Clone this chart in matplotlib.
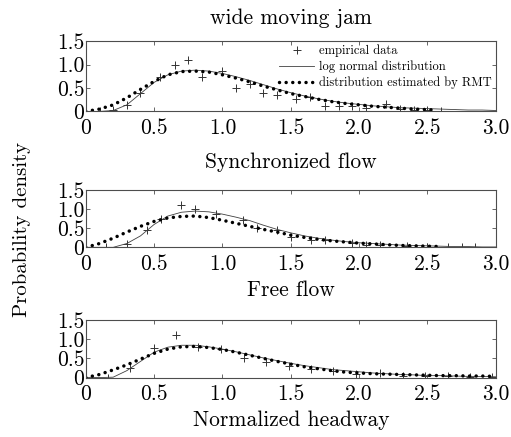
import matplotlib
matplotlib.use("Agg")
import matplotlib.pyplot as plt

plt.rcParams.update({
    "font.family": "serif",
    "font.serif": ["cmr10", "DejaVu Serif"],
    "mathtext.fontset": "cm",
    "axes.formatter.use_mathtext": True,
})

# empirical data (+ markers)
sync_emp_x = [0, 0.1, 0.2, 0.3, 0.4, 0.54, 0.65, 0.75, 0.85, 1.0, 1.1, 1.2, 1.3, 1.4,
              1.54, 1.64, 1.75, 1.85, 1.95, 2.05, 2.2, 2.3, 2.4, 2.5, 2.6]
sync_emp_y = [0, 0.0, 0.02, 0.14, 0.40, 0.73, 0.99, 1.10, 0.74, 0.87, 0.49, 0.59, 0.40, 0.35,
              0.26, 0.30, 0.12, 0.11, 0.12, 0.07, 0.15, 0.05, 0.04, 0.02, 0.01]

free_emp_x = [0, 0.15, 0.3, 0.45, 0.55, 0.7, 0.8, 0.95, 1.15, 1.25, 1.4, 1.5, 1.65, 1.75,
              1.95, 2.05, 2.15, 2.35, 2.5, 2.65, 2.75, 2.85]
free_emp_y = [0, 0.0, 0.10, 0.45, 0.74, 1.11, 1.0, 0.87, 0.71, 0.50, 0.46, 0.28, 0.19, 0.19,
              0.12, 0.06, 0.07, 0.03, 0.02, 0.02, 0.01, 0.01]

jam_emp_x = [0, 0.16, 0.32, 0.5, 0.66, 0.82, 0.99, 1.16, 1.32, 1.49, 1.65, 1.81, 1.98, 2.15,
             2.32, 2.48, 2.65, 2.81, 2.97]
jam_emp_y = [0, 0.0, 0.25, 0.76, 1.11, 0.80, 0.74, 0.50, 0.41, 0.29, 0.21, 0.17, 0.10, 0.13,
             0.05, 0.04, 0.03, 0.02, 0.01]

# curves read at steps of 0.1
curve_x = [0, 0.1, 0.2, 0.3, 0.4, 0.5, 0.6, 0.7, 0.8, 0.9, 1.0, 1.1, 1.2, 1.3, 1.4, 1.5,
           1.6, 1.7, 1.8, 1.9, 2.0, 2.1, 2.2, 2.3, 2.4, 2.5, 2.6, 2.7, 2.8, 2.9, 3.0]

sync_logn = [0, 0.0, 0.02, 0.14, 0.38, 0.62, 0.78, 0.86, 0.88, 0.86, 0.81, 0.74, 0.66, 0.57,
             0.48, 0.40, 0.33, 0.27, 0.22, 0.18, 0.15, 0.12, 0.10, 0.08, 0.07, 0.06, 0.05,
             0.04, 0.03, 0.03, 0.02]
sync_rmt_x = [0, 0.1, 0.2, 0.3, 0.4, 0.5, 0.6, 0.7, 0.8, 0.9, 1.0, 1.1, 1.2, 1.3, 1.4, 1.5,
              1.6, 1.7, 1.8, 1.9, 2.0, 2.1, 2.2, 2.3, 2.4, 2.5, 2.55]
sync_rmt = [0, 0.05, 0.14, 0.29, 0.47, 0.64, 0.78, 0.85, 0.86, 0.84, 0.78, 0.71, 0.63, 0.54,
            0.46, 0.38, 0.32, 0.26, 0.21, 0.17, 0.14, 0.11, 0.09, 0.07, 0.05, 0.04, 0.03]

free_logn = [0, 0.0, 0.0, 0.10, 0.30, 0.60, 0.82, 0.92, 0.95, 0.93, 0.87, 0.79, 0.70, 0.58,
             0.47, 0.38, 0.30, 0.24, 0.19, 0.15, 0.12, 0.10, 0.08, 0.06, 0.05, 0.04, 0.03,
             0.02, 0.02, 0.01, 0.01]
free_rmt_x = [0, 0.1, 0.2, 0.3, 0.4, 0.5, 0.6, 0.7, 0.8, 0.9, 1.0, 1.1, 1.2, 1.3, 1.4, 1.5,
              1.6, 1.7, 1.8, 1.9, 2.0, 2.1, 2.2, 2.3, 2.4, 2.5, 2.6]
free_rmt = [0, 0.10, 0.24, 0.40, 0.55, 0.68, 0.77, 0.81, 0.82, 0.78, 0.71, 0.63, 0.55, 0.47,
            0.40, 0.32, 0.26, 0.21, 0.17, 0.14, 0.11, 0.09, 0.07, 0.05, 0.04, 0.03, 0.02]

jam_logn = [0, 0.0, 0.01, 0.18, 0.42, 0.66, 0.79, 0.84, 0.84, 0.80, 0.74, 0.67, 0.59, 0.51,
            0.44, 0.37, 0.31, 0.26, 0.21, 0.18, 0.15, 0.12, 0.10, 0.08, 0.07, 0.05, 0.05,
            0.04, 0.03, 0.03, 0.02]
jam_rmt = [0, 0.08, 0.20, 0.33, 0.48, 0.63, 0.74, 0.80, 0.81, 0.78, 0.73, 0.66, 0.58, 0.50,
           0.42, 0.35, 0.28, 0.23, 0.18, 0.14, 0.12, 0.10, 0.09, 0.08, 0.07, 0.06, 0.05,
           0.05, 0.04, 0.04, 0.03]

xticks = [0, 0.5, 1.0, 1.5, 2.0, 2.5, 3.0]
xticklabels = ["0", "0.5", "1.0", "1.5", "2.0", "2.5", "3.0"]
yticks = [0, 0.5, 1.0, 1.5]
yticklabels = ["0", "0.5", "1.0", "1.5"]

panels = [
    (sync_emp_x, sync_emp_y, sync_logn, sync_rmt_x, sync_rmt),
    (free_emp_x, free_emp_y, free_logn, free_rmt_x, free_rmt),
    (jam_emp_x, jam_emp_y, jam_logn, curve_x, jam_rmt),
]
# axes boxes in figure fractions (left, bottom, width, height)
boxes = [
    [0.168, 0.745, 0.802, 0.161],
    [0.168, 0.434, 0.802, 0.131],
    [0.168, 0.136, 0.802, 0.132],
]

fig = plt.figure(figsize=(5.11, 4.37), dpi=100)

for i, (ex, ey, logn, rx, rmt) in enumerate(panels):
    ax = fig.add_axes(boxes[i])
    ax.plot(ex, ey, '+', color='0.2', ms=6, mew=0.7, label='empirical data')
    ax.plot(curve_x, logn, '-', color='0.25', lw=0.6, label='log normal distribution')
    ax.plot(rx, rmt, color='black', lw=2.5, linestyle=(0, (0.01, 1.9)),
            dash_capstyle='round', label='distribution estimated by RMT')
    ax.set_xlim(0, 3.0)
    ax.set_ylim(0, 1.5)
    ax.set_xticks(xticks)
    ax.set_xticklabels(xticklabels)
    ax.set_yticks(yticks)
    ax.set_yticklabels(yticklabels)
    ax.tick_params(direction='in', top=True, right=True, length=3, width=0.6,
                   labelsize=15.5, color='0.3')
    ax.tick_params(axis='x', pad=5)
    ax.tick_params(axis='y', pad=1)
    for s in ax.spines.values():
        s.set_linewidth(0.8)
        s.set_color('0.3')
    if i == 0:
        ax.legend(loc='upper right', frameon=False, fontsize=9, handlelength=2.8,
                  handletextpad=0.4, labelspacing=0.25, borderaxespad=0.1, borderpad=0.2)

fig.text(0.57, 0.959, 'wide moving jam', ha='center', va='center', fontsize=15.5)
fig.text(0.57, 0.629, 'Synchronized flow', ha='center', va='center', fontsize=15.5)
fig.text(0.57, 0.336, 'Free flow', ha='center', va='center', fontsize=15.5)
fig.text(0.57, 0.039, 'Normalized headway', ha='center', va='center', fontsize=15.5)
fig.text(0.043, 0.475, 'Probability density', ha='center', va='center',
         rotation=90, fontsize=15)

plt.savefig("out.png", dpi=100)
